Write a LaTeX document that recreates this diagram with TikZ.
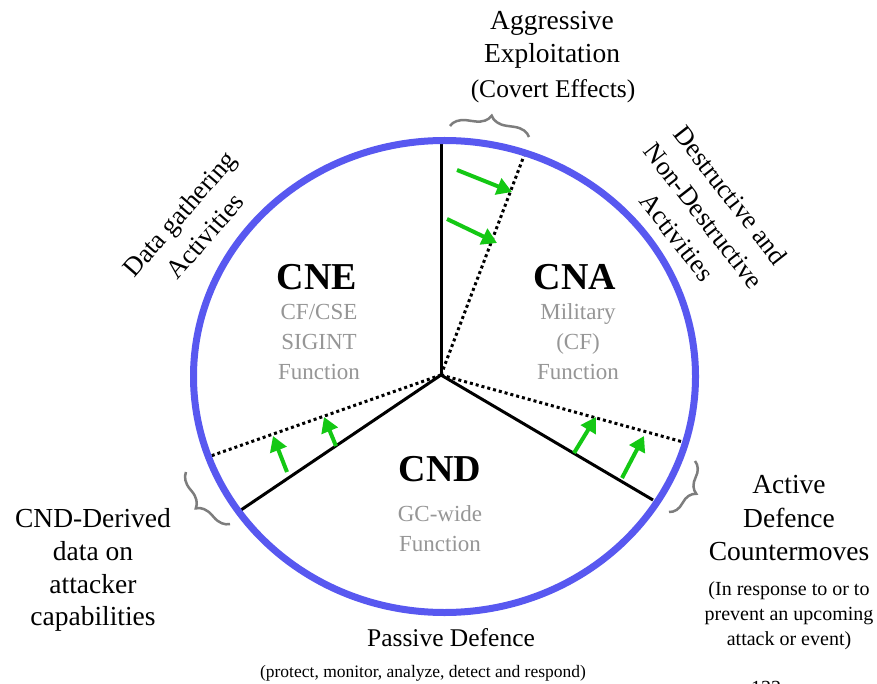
\documentclass[tikz,border=0pt]{standalone}
\usepackage{fontspec}
\setmainfont{Liberation Serif}
\usetikzlibrary{arrows.meta,decorations.pathreplacing}
\definecolor{ringblue}{RGB}{88,88,240}
\definecolor{arrowgreen}{RGB}{20,200,20}
\definecolor{greytxt}{RGB}{150,150,150}
\definecolor{bracegrey}{RGB}{125,125,125}
\begin{document}
\begin{tikzpicture}[x=1pt,y=-1pt,
  ring/.style={draw=ringblue,line width=7pt},
  spoke/.style={draw=black,line width=3pt},
  dotspoke/.style={draw=black,line width=3pt,dash pattern=on 3pt off 3pt},
  push/.style={draw=arrowgreen,line width=4pt,-{Triangle[length=15pt,width=17pt]}},
  bracket/.style={draw=bracegrey,line width=2.5pt,decorate,decoration={brace,amplitude=16pt}},
  lbl/.style={anchor=base,inner sep=0pt,font=\fontsize{27.5}{33}\selectfont},
  small/.style={anchor=base,inner sep=0pt,font=\fontsize{20}{25}\selectfont},
  tiny/.style={anchor=base,inner sep=0pt,font=\fontsize{17.5}{22}\selectfont},
  big/.style={anchor=base,inner sep=0pt,font=\fontsize{38}{40}\selectfont\bfseries},
  func/.style={anchor=base,inner sep=0pt,text=greytxt,font=\fontsize{23}{28}\selectfont},
  rot/.style={align=center,inner sep=0pt,font=\fontsize{26.5}{34}\selectfont}
]
\useasboundingbox (0,0) rectangle (877,684);
\fill[white] (0,0) rectangle (877,684);

% centre and spoke ends
\coordinate (O) at (441,375);
\coordinate (top) at (441,141);
\coordinate (topdot) at (525,153);
\coordinate (left) at (238,512);
\coordinate (leftdot) at (205,458);
\coordinate (right) at (653,500);
\coordinate (rightdot) at (683,442);

\draw[dotspoke] (O) -- (topdot);
\draw[dotspoke] (O) -- (leftdot);
\draw[dotspoke] (O) -- (rightdot);
\draw[spoke] (O) -- (top);
\draw[spoke] (O) -- (left);
\draw[spoke] (O) -- (right);

\draw[ring] (444.5,376.5) ellipse [x radius=251pt, y radius=236pt];

% green arrows
\coordinate (a1s) at (457,170); \coordinate (a1e) at (512,192);
\coordinate (a2s) at (447,219); \coordinate (a2e) at (497,243);
\coordinate (a3s) at (287,472); \coordinate (a3e) at (273,436);
\coordinate (a4s) at (336,446); \coordinate (a4e) at (324,417);
\coordinate (a5s) at (574,453); \coordinate (a5e) at (596,417);
\coordinate (a6s) at (622,478); \coordinate (a6e) at (644,436);
\draw[push] (a1s) -- (a1e);
\draw[push] (a2s) -- (a2e);
\draw[push] (a3s) -- (a3e);
\draw[push] (a4s) -- (a4e);
\draw[push] (a5s) -- (a5e);
\draw[push] (a6s) -- (a6e);

% braces
\coordinate (b1a) at (450,126); \coordinate (b1b) at (529,137);
\coordinate (b2a) at (230,524); \coordinate (b2b) at (186,472);
\coordinate (b3a) at (695,461); \coordinate (b3b) at (669,512);
\draw[bracket] (b1a) -- (b1b);
\draw[bracket] (b2a) -- (b2b);
\draw[bracket] (b3a) -- (b3b);

% sector titles
\node[big] (cne) at (317,290) {CNE};
\node[func] (cne1) at (319,319) {CF/CSE};
\node[func] (cne2) at (319,349) {SIGINT};
\node[func] (cne3) at (319,379) {Function};

\node[big] (cna) at (575,290) {CNA};
\node[func] (cna1) at (578,319) {Military};
\node[func] (cna2) at (578,349) {(CF)};
\node[func] (cna3) at (578,379) {Function};

\node[big] (cnd) at (440,481) {CND};
\node[func] (cnd1) at (440,521) {GC-wide};
\node[func] (cnd2) at (440,551) {Function};

% outer labels
\node[lbl] (ag1) at (552,30) {Aggressive};
\node[lbl] (ag2) at (552,63) {Exploitation};
\node[lbl,font=\fontsize{25.5}{30}\selectfont] (ag3) at (553,98) {(Covert Effects)};

\node[rot,rotate=49] (data) at (192,225) {Data gathering\\Activities};
\node[rot,rotate=-52] (dest) at (704,216) {Destructive and\\Non-Destructive\\Activities};

\node[lbl] (cd1) at (93,527) {CND-Derived};
\node[lbl] (cd2) at (93,560) {data on};
\node[lbl] (cd3) at (93,593) {attacker};
\node[lbl] (cd4) at (93,625) {capabilities};

\node[lbl] (ad1) at (789,493) {Active};
\node[lbl] (ad2) at (789,527) {Defence};
\node[lbl] (ad3) at (789,560) {Countermoves};
\node[small] (ad4) at (789,595) {(In response to or to};
\node[small] (ad5) at (789,620) {prevent an upcoming};
\node[small] (ad6) at (789,645) {attack or event)};

\node[lbl,font=\fontsize{25.5}{30}\selectfont] (pd1) at (451,646) {Passive Defence};
\node[tiny] (pd2) at (423,677) {(protect, monitor, analyze, detect and respond)};

\node[small] (pg) at (766,694) {133};
\end{tikzpicture}
\end{document}
